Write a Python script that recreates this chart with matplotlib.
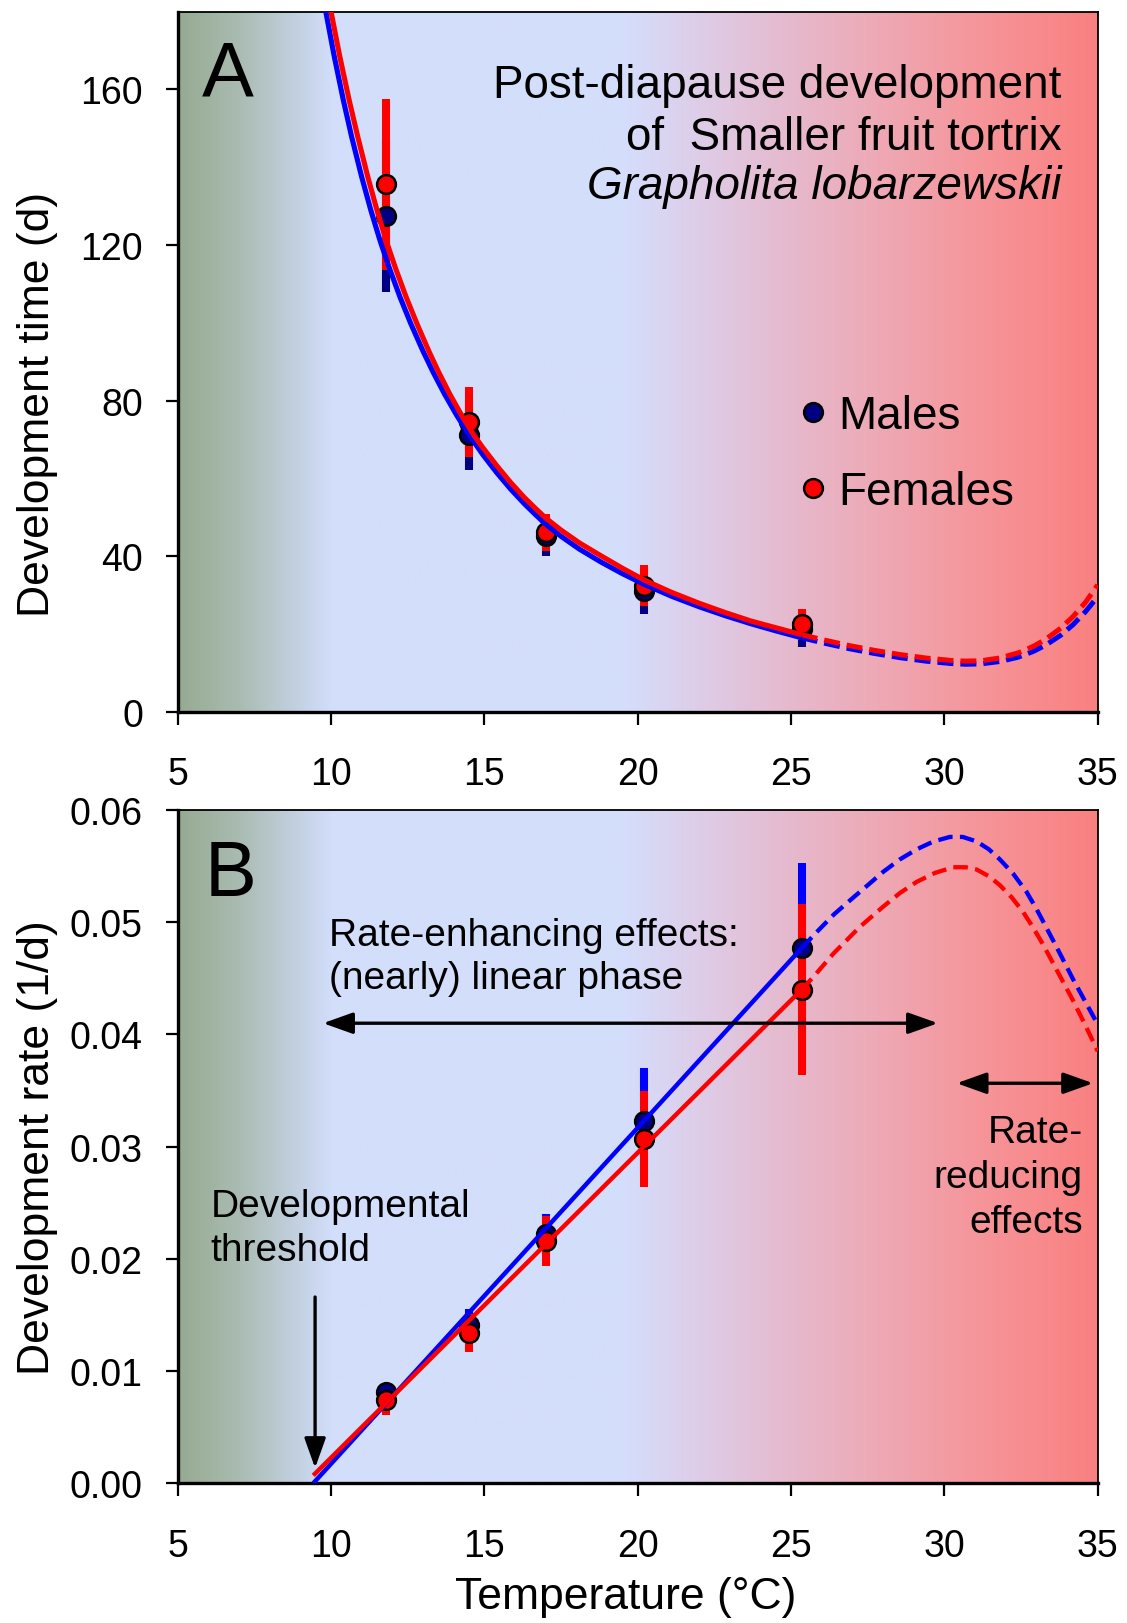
import numpy as np
import matplotlib
matplotlib.use('Agg')
import matplotlib.pyplot as plt
from matplotlib.lines import Line2D

plt.rcParams['font.family'] = ['Liberation Sans', 'DejaVu Sans']

# ---------------- data ----------------
temps = [11.8, 14.5, 17.0, 20.2, 25.35]

# Panel A: development time (d)
male_time = [127.4, 71.1, 45.2, 31.1, 21.3]
male_time_err = [19.5, 9.0, 5.2, 6.0, 4.6]
female_time = [135.6, 74.4, 46.1, 32.4, 22.5]
female_time_err = [22.0, 9.0, 4.7, 5.3, 4.0]

# Panel B: development rate (1/d)
male_rate = [0.0081, 0.0141, 0.0222, 0.0323, 0.0477]
male_rate_err = [0.0008, 0.0014, 0.0018, 0.0047, 0.0076]
female_rate = [0.0074, 0.0134, 0.0216, 0.0307, 0.0440]
female_rate_err = [0.0013, 0.0017, 0.0022, 0.0043, 0.0076]

# Fitted curves, panel A (solid part)
male_fitA_T = [9.83, 10.1, 10.4, 10.67, 11.0, 11.3, 11.6, 11.9, 12.25, 12.6,
               13.0, 13.33, 13.7, 14.1, 14.5, 14.95, 15.4, 15.85, 16.3, 16.65,
               17.0, 17.5, 18.1, 18.8, 19.5, 20.2, 21.1, 22.0, 22.85, 23.7,
               24.5, 25.35]
male_fitA_D = [180, 168.7, 157.3, 147.9, 137.5, 128.9, 121.1, 114.1, 106.6, 99.8,
               92.7, 87.3, 81.7, 76.2, 71.2, 66.1, 61.5, 57.3, 53.5, 50.8,
               48.2, 45.1, 41.8, 38.5, 35.5, 32.8, 29.7, 27.0, 24.7, 22.6,
               20.8, 19.0]
female_fitA_T = [10.0, 10.28, 10.59, 10.87, 11.2, 11.5, 11.8, 12.1, 12.45,
                 12.8, 13.19, 13.51, 13.87, 14.26, 14.65, 14.95, 15.4, 15.85,
                 16.3, 16.65, 17.0, 17.5, 18.1, 18.8, 19.5, 20.2, 21.1, 22.0,
                 22.85, 23.7, 24.5, 25.35]
female_fitA_D = [180, 168.7, 157.3, 147.9, 137.5, 128.9, 121.1, 114.1, 106.6,
                 99.8, 92.7, 87.3, 81.7, 76.2, 71.2, 67.9, 63.3, 59.0,
                 55.1, 52.4, 49.8, 46.7, 43.4, 40.1, 36.9, 33.9, 30.7, 27.9,
                 25.5, 23.3, 21.6, 19.8]
# Fitted curves, panel A (dashed extrapolation)
male_extA_T = [25.35, 26.1, 26.9, 27.7, 28.55, 29.4, 30.2, 30.7, 31.2, 31.8,
               32.4, 32.9, 33.3, 33.8, 34.2, 34.6, 35.0]
male_extA_D = [19.0, 17.6, 16.2, 15.0, 13.9, 13.0, 12.4, 12.2, 12.3, 12.9,
               14.0, 15.5, 17.1, 19.7, 22.4, 25.7, 29.6]
female_extA_T = [25.35, 26.1, 26.9, 27.7, 28.55, 29.4, 30.2, 30.7, 31.2, 31.8,
                 32.4, 32.9, 33.3, 33.8, 34.2, 34.6, 35.0]
female_extA_D = [19.8, 18.4, 17.0, 15.8, 14.7, 13.8, 13.2, 13.0, 13.1, 13.8,
                 15.1, 16.8, 18.6, 21.5, 24.5, 28.1, 32.6]

# Fitted lines, panel B (linear phase)
male_linB_T = [9.42, 25.35]
male_linB_R = [0.0, 0.0477]
female_linB_T = [9.42, 25.35]
female_linB_R = [0.0007, 0.0440]
# Fitted curves, panel B (dashed extrapolation)
male_extB_T = [25.35, 25.83, 26.4, 27.03, 27.5, 28.01, 28.55, 29.1, 29.65,
               30.18, 30.6, 31.05, 31.45, 31.81, 32.25, 32.68, 33.0, 33.33,
               33.77, 34.2, 34.6, 35.0]
male_extB_R = [0.0477, 0.0491, 0.0507, 0.0522, 0.0533, 0.0545, 0.0556, 0.0565,
               0.0572, 0.0576, 0.0576, 0.0572, 0.0565, 0.0556, 0.0543, 0.0527,
               0.0512, 0.0495, 0.0472, 0.0449, 0.0429, 0.0409]
female_extB_T = [25.35, 25.72, 26.38, 27.25, 28.01, 28.55, 29.1, 29.7, 30.29,
                 30.7, 31.05, 31.45, 31.81, 32.2, 32.57, 32.9, 33.22, 33.77,
                 34.2, 34.6, 35.0]
female_extB_R = [0.0440, 0.0451, 0.0472, 0.0496, 0.0514, 0.0526, 0.0536, 0.0544,
                 0.0549, 0.0549, 0.0547, 0.0541, 0.0533, 0.0522, 0.0509, 0.0495,
                 0.0480, 0.0452, 0.0430, 0.0408, 0.0385]

x_ticks = [5, 10, 15, 20, 25, 30, 35]
yA_ticks = [0, 40, 80, 120, 160]
yB_ticks = [0.00, 0.01, 0.02, 0.03, 0.04, 0.05, 0.06]

title_lines = ["Post-diapause development", "of  Smaller fruit tortrix",
               "Grapholita lobarzewskii"]

# ---------------- style ----------------
W, H = 1127, 1624
grad_T = [5.0, 7.0, 9.0, 10.0, 19.5, 22.0, 25.0, 28.0, 31.0, 35.0]
grad_C = [(150, 170, 145), (170, 188, 178), (196, 210, 228), (210, 222, 250),
          (212, 222, 252), (222, 205, 232), (230, 185, 205), (238, 168, 180),
          (245, 150, 155), (250, 128, 128)]

MALE_FACE = '#000080'
BLUE = '#0000FF'
RED = '#FF0000'

fig = plt.figure(figsize=(W / 100, H / 100), dpi=100)
axA = fig.add_axes([177.7 / W, 1 - 712.7 / H, 920 / W, 700 / H])
axB = fig.add_axes([177.7 / W, 1 - 1484.3 / H, 920 / W, 673.3 / H])


def gradient(ax, ylim):
    tt = np.linspace(5, 35, 700)
    cols = np.array(grad_C) / 255.0
    img = np.stack([np.interp(tt, grad_T, cols[:, k]) for k in range(3)], axis=-1)
    img = img[np.newaxis, :, :]
    ax.imshow(img, extent=(5, 35, ylim[0], ylim[1]), aspect='auto',
              zorder=0, interpolation='bilinear')


def style(ax, ylim, yticks, fmt=None):
    ax.set_xlim(5, 35)
    ax.set_ylim(*ylim)
    ax.set_xticks(x_ticks)
    ax.set_yticks(yticks)
    if fmt:
        ax.set_yticklabels([fmt % v for v in yticks])
    ax.tick_params(axis='both', direction='out', length=9, width=1.6,
                   labelsize=27)
    ax.tick_params(axis='x', pad=23)
    ax.tick_params(axis='y', pad=16)
    for s in ('left', 'bottom'):
        ax.spines[s].set_linewidth(2.4)
    for s in ('top', 'right'):
        ax.spines[s].set_linewidth(1.3)


ms = 13.5
mew = 1.8
elw = 5.8

# ---------------- Panel A ----------------
gradient(axA, (0, 180))
axA.errorbar(temps, male_time, yerr=male_time_err, fmt='none',
             ecolor=MALE_FACE, elinewidth=elw, capsize=0, zorder=2)
axA.errorbar(temps, female_time, yerr=female_time_err, fmt='none',
             ecolor=RED, elinewidth=elw, capsize=0, zorder=2.1)
axA.plot(temps, male_time, 'o', ms=ms, mfc=MALE_FACE, mec='black', mew=mew,
         zorder=3)
axA.plot(temps, female_time, 'o', ms=ms, mfc=RED, mec='black', mew=mew,
         zorder=3.1)
axA.plot(male_fitA_T, male_fitA_D, color=BLUE, lw=3.7, zorder=4,
         solid_capstyle='butt', solid_joinstyle='round')
axA.plot(female_fitA_T, female_fitA_D, color=RED, lw=3.7, zorder=4.1,
         solid_capstyle='butt', solid_joinstyle='round')
axA.plot(male_extA_T, male_extA_D, color=BLUE, lw=3.6, zorder=4,
         dashes=(3.2, 1.4))
axA.plot(female_extA_T, female_extA_D, color=RED, lw=3.6, zorder=4.1,
         dashes=(3.2, 1.4))
style(axA, (0, 180), yA_ticks)
axA.set_ylabel('Development time (d)', fontsize=32)
axA.yaxis.set_label_coords(-0.13, 0.44)

axA.text(0.026, 0.881, 'A', transform=axA.transAxes, fontsize=56,
         va='baseline', ha='left')
axA.text(0.961, 0.8776, title_lines[0], transform=axA.transAxes,
         fontsize=33, ha='right', va='baseline')
axA.text(0.961, 0.8036, title_lines[1], transform=axA.transAxes,
         fontsize=33, ha='right', va='baseline')
axA.text(0.961, 0.734, title_lines[2], transform=axA.transAxes,
         fontsize=33, ha='right', va='baseline', style='italic')

handles = [Line2D([], [], ls='none', marker='o', ms=ms, mfc=MALE_FACE,
                  mec='black', mew=mew),
           Line2D([], [], ls='none', marker='o', ms=ms, mfc=RED,
                  mec='black', mew=mew)]
axA.legend(handles, ['Males', 'Females'], loc='upper left',
           bbox_to_anchor=(0.678, 0.454), frameon=False, fontsize=33,
           handlelength=0.5, handletextpad=0.3, labelspacing=0.7,
           borderpad=0, borderaxespad=0)

# ---------------- Panel B ----------------
gradient(axB, (0, 0.06))
axB.errorbar(temps, male_rate, yerr=male_rate_err, fmt='none',
             ecolor=BLUE, elinewidth=elw, capsize=0, zorder=2)
axB.errorbar(temps, female_rate, yerr=female_rate_err, fmt='none',
             ecolor=RED, elinewidth=elw, capsize=0, zorder=2.1)
axB.plot(temps, male_rate, 'o', ms=ms, mfc=MALE_FACE, mec='black', mew=mew,
         zorder=3)
axB.plot(temps, female_rate, 'o', ms=ms, mfc=RED, mec='black', mew=mew,
         zorder=3.1)
axB.plot(male_linB_T, male_linB_R, color=BLUE, lw=3.2, zorder=4,
         solid_capstyle='butt')
axB.plot(female_linB_T, female_linB_R, color=RED, lw=3.2, zorder=4.1,
         solid_capstyle='butt')
axB.plot(male_extB_T, male_extB_R, color=BLUE, lw=3.1, zorder=4,
         dashes=(3.4, 1.7))
axB.plot(female_extB_T, female_extB_R, color=RED, lw=3.1, zorder=4.1,
         dashes=(3.4, 1.7))
style(axB, (0, 0.06), yB_ticks, fmt='%.2f')
axB.set_ylabel('Development rate (1/d)', fontsize=32)
axB.yaxis.set_label_coords(-0.13, 0.50)
axB.set_xlabel('Temperature (°C)', fontsize=32)
axB.xaxis.set_label_coords(0.487, -0.137)
axB.xaxis.label.set_va('top')

axB.text(0.029, 0.874, 'B', transform=axB.transAxes, fontsize=56,
         va='baseline', ha='left')
axB.text(0.1645, 0.7995, 'Rate-enhancing effects:', transform=axB.transAxes,
         fontsize=28, ha='left', va='baseline')
axB.text(0.1645, 0.7356, '(nearly) linear phase', transform=axB.transAxes,
         fontsize=28, ha='left', va='baseline')
axB.text(0.0354, 0.397, 'Developmental', transform=axB.transAxes,
         fontsize=28, ha='left', va='baseline')
axB.text(0.0354, 0.3317, 'threshold', transform=axB.transAxes,
         fontsize=28, ha='left', va='baseline')
for txt, yy in zip(['Rate-', 'reducing', 'effects'], [0.507, 0.440, 0.373]):
    axB.text(0.984, yy, txt, transform=axB.transAxes, fontsize=28,
             ha='right', va='baseline')

arrow_kw = dict(color='black', lw=2.4, mutation_scale=26, shrinkA=0, shrinkB=0)
axB.annotate('', xy=(29.79, 0.0410), xytext=(9.74, 0.0410),
             arrowprops=dict(arrowstyle='<|-|>,head_length=0.7,head_width=0.25',
                             **arrow_kw), zorder=5)
axB.annotate('', xy=(34.85, 0.03565), xytext=(30.4, 0.03565),
             arrowprops=dict(arrowstyle='<|-|>,head_length=0.7,head_width=0.25',
                             **arrow_kw), zorder=5)
axB.annotate('', xy=(9.48, 0.00136), xytext=(9.48, 0.0166),
             arrowprops=dict(arrowstyle='-|>,head_length=0.7,head_width=0.25',
                             **arrow_kw), zorder=5)

fig.savefig('out.png', dpi=100)
